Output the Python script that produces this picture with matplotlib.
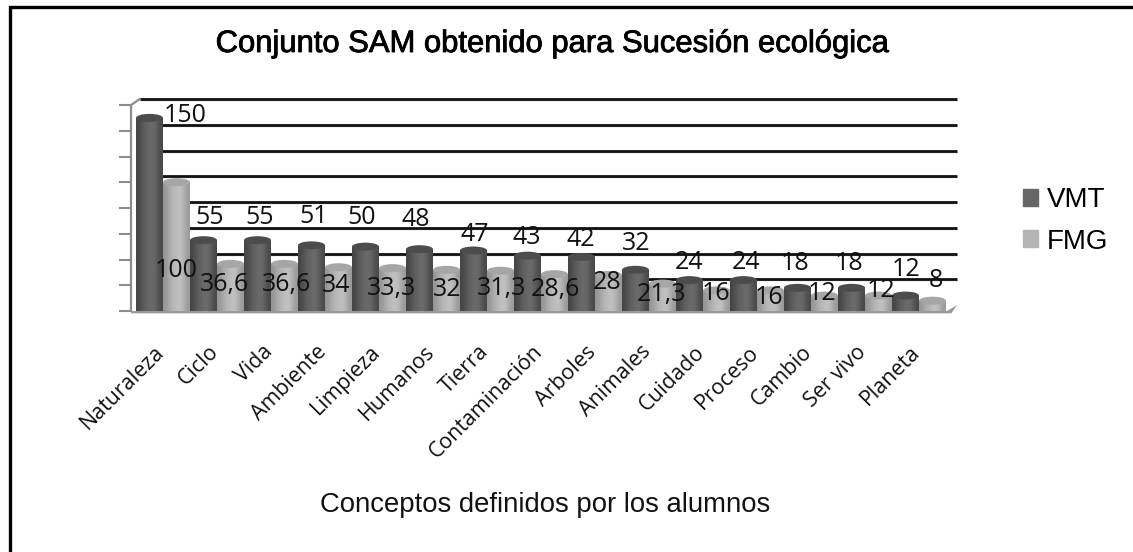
import matplotlib
matplotlib.use("Agg")
import matplotlib.patheffects as pe
import matplotlib.pyplot as plt
import numpy as np
from matplotlib.lines import Line2D
from matplotlib.patches import Ellipse, Patch, Polygon

W, H = 1133, 552

conceptos = ["Naturaleza", "Ciclo", "Vida", "Ambiente", "Limpieza", "Humanos", "Tierra",
             "Contaminación", "Arboles", "Animales", "Cuidado", "Proceso", "Cambio", "Ser vivo", "Planeta"]
vmt = [150, 55, 55, 51, 50, 48, 47, 43, 42, 32, 24, 24, 18, 18, 12]
fmg = [100, 36.6, 36.6, 34, 33.3, 32, 31.3, 28.6, 28, 21.3, 16, 16, 12, 12, 8]
fmg_txt = ["100", "36,6", "36,6", "34", "33,3", "32", "31,3", "28,6", "28", "21,3", "16", "16", "12", "12", "8"]

# label offsets in pixels from the top of each bar
vmt_dx = [36, 6, 2, 2, -4, -4, 1, -1, -1, 1, 0, 3, -2, -2, 1]
vmt_dy = [2.5, 23, 23, 29, 29.5, 30, 16.4, 18.5, 17.8, 26.7, 18, 18, 24.8, 24.8, 26.5]
fmg_dx = [0, -6, 2, -2, -1, 1, 1, 1, -1, -1, 0, -1, -2, 3, 3]
fmg_dy = [-88, -21, -21, -18, -20, -19.3, -17.4, -15, -8, -10.5, -2.6, -6.6, 2.5, 5.5, 19.7]

DARK = ("#454545", "#6c6c6c", "#4c4c4c")
LIGHT = ("#959595", "#c2c2c2", "#a6a6a6")
LABEL_FONT = "Open Sans"
ARIAL = "Liberation Sans"


def px_rect(left, top, right, bottom):
    return [left / W, 1 - bottom / H, (right - left) / W, (bottom - top) / H]


def cilindro(ax, x, value, colors):
    edge, mid, top = colors
    ramp = np.array([0.0, 0.4, 0.7, 0.9, 1.0, 0.6, 0.1]).reshape(1, -1)
    cmap = matplotlib.colors.LinearSegmentedColormap.from_list("c", [edge, mid])
    body = ax.bar(x, value, width=0.5, color="none", linewidth=0, zorder=3)[0]
    im = ax.imshow(ramp, cmap=cmap, extent=(x - 0.25, x + 0.25, 0, value), aspect="auto",
                   interpolation="bicubic", zorder=3)
    im.set_clip_path(body)
    ax.add_patch(Ellipse((x, value), 0.5, 6.2, color=top, lw=0, zorder=3))


fig = plt.figure(figsize=(W / 100, H / 100), dpi=100)
# the frame only has its top and left sides
fig.add_artist(Line2D([9.5 / W, 9.5 / W, 1], [0, 1 - 6.5 / H, 1 - 6.5 / H], color="black", lw=2.4,
                      solid_joinstyle="miter"))

ax = fig.add_axes(px_rect(131, 105, 957, 311))
ax.set_xlim(-5 / 54, 821 / 54)
ax.set_ylim(0, 160)
ax.patch.set_alpha(0)
for s in ax.spines.values():
    s.set_visible(False)

px_per_unit = 206 / 160

# back wall gridlines sit 6 px above the front axis
grid_shift = 6 / px_per_unit
ax.hlines(np.arange(20, 161, 20) + grid_shift, 0.07, 821 / 54, color="#111111", lw=2, zorder=1, clip_on=False)
ax.hlines(np.arange(20, 161, 20) + grid_shift - 0.9, 0.07, 821 / 54, color="#bbbbbb", lw=1, zorder=0.9, clip_on=False)

# side wall and floor
ax.plot([-5 / 54, -5 / 54, 0.07], [0, 160, 160 + grid_shift], color="#8c8c8c", lw=1.6, clip_on=False, zorder=2)
ax.add_patch(Polygon([(-5 / 54, 0), (15.02, 0), (821 / 54, grid_shift), (15.1, -1.8), (-5 / 54, -1.8)],
                     closed=True, color="#9a9a9a", lw=0, clip_on=False, zorder=2))
ax.set_yticks(np.arange(0, 161, 20))
ax.set_yticklabels([])
ax.tick_params(axis="y", length=9, width=1.5, color="#8c8c8c")

x_pos = np.arange(len(conceptos))
for i in x_pos:
    cilindro(ax, i + 0.25, vmt[i], DARK)
    cilindro(ax, i + 0.75, fmg[i], LIGHT)
ax.set_xlim(-5 / 54, 821 / 54)
ax.set_ylim(0, 160)

ax.set_xticks(x_pos + 0.33)
ax.set_xticklabels(conceptos, rotation=45, ha="right", va="top", rotation_mode="anchor",
                   family=LABEL_FONT, fontsize=15.4, color="#111111")
ax.tick_params(axis="x", length=0, pad=22)

for i in x_pos:
    ax.annotate(str(vmt[i]), (i + 0.25, vmt[i]), xytext=(vmt_dx[i], vmt_dy[i]), textcoords="offset pixels",
                ha="center", va="center", family=LABEL_FONT, fontsize=18, color="#111111", zorder=5,
                annotation_clip=False)
    ax.annotate(fmg_txt[i], (i + 0.75, fmg[i]), xytext=(fmg_dx[i], fmg_dy[i]), textcoords="offset pixels",
                ha="center", va="center", family=LABEL_FONT, fontsize=18, color="#111111", zorder=5,
                annotation_clip=False)

titulo = fig.text(553 / W, 1 - 44 / H, "Conjunto SAM obtenido para Sucesión ecológica", ha="center", va="center",
                  family=ARIAL, fontsize=22.3, color="black")
titulo.set_path_effects([pe.withStroke(linewidth=0.6, foreground="black")])
fig.text(545 / W, 1 - 505 / H, "Conceptos definidos por los alumnos", ha="center", va="center",
         family=ARIAL, fontsize=19.8, color="#111111")

handles = [Patch(color="#666666", label="VMT"), Patch(color="#b4b4b4", label="FMG")]
fig.legend(handles=handles, loc="center left", bbox_to_anchor=(1023 / W, 1 - 221 / H), frameon=False,
           prop={"family": ARIAL, "size": 20}, handlelength=0.55, handleheight=0.55, handletextpad=0.3,
           labelspacing=0.55, borderpad=0, borderaxespad=0)

fig.savefig("out.png", dpi=100)
